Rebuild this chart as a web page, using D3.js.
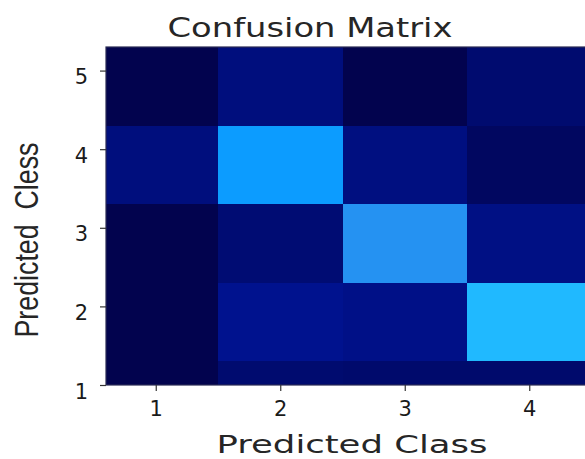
<!DOCTYPE html>
<html>
<head>
<meta charset="utf-8">
<script src="https://cdn.jsdelivr.net/npm/d3@7"></script>
<style>
  html, body { margin: 0; padding: 0; background: #fff; }
  svg { display: block; }
</style>
</head>
<body>
<svg id="chart" width="585" height="459"></svg>
<script>
// Confusion matrix data
const colClasses = [1, 2, 3, 4];
const rowClasses = [5, 4, 3, 2, 1];
const row5 = [0, 15, 0, 11];
const row4 = [15, 80, 16, 6];
const row3 = [0, 12, 70, 17];
const row2 = [0, 20, 18, 100];
const row1 = [0, 11, 10, 10];
const matrixRows = [row5, row4, row3, row2, row1];
const xTickValues = [1, 2, 3, 4];
const yTickValues = [1, 2, 3, 4, 5];

const title = "Confusion Matrix";
const xLabel = "Predicted Class";
const yLabel = "Predicted  Cless";

// Flatten into cells
const cells = [];
rowClasses.forEach((r, i) => {
  colClasses.forEach((c, j) => {
    cells.push({ row: r, col: c, value: matrixRows[i][j] });
  });
});

const svg = d3.select("#chart");
const plot = { left: 106, top: 47, right: 585, bottom: 385 };

const x = d3.scaleLinear().domain([1.5, 3.5]).range([218, 467]);
const y = d3.scaleLinear().domain([1, 5.3]).range([plot.bottom, plot.top]);

const color = d3.scaleLinear()
  .domain([0, 10, 20, 70, 80, 100])
  .range(["#02034e", "#000a6c", "#00128e", "#2592f2", "#0c9cff", "#20b9ff"])
  .clamp(true);

svg.append("defs").append("clipPath").attr("id", "plotClip")
  .append("rect")
  .attr("x", plot.left).attr("y", plot.top)
  .attr("width", plot.right - plot.left).attr("height", plot.bottom - plot.top);

// Row bands sit 0.7 below and 0.3 above each class value
const rowBelow = 0.7, rowAbove = 0.3;

svg.append("g").attr("clip-path", "url(#plotClip)")
  .selectAll("rect")
  .data(cells)
  .join("rect")
  .attr("x", d => x(d.col - 0.5))
  .attr("width", d => x(d.col + 0.5) - x(d.col - 0.5))
  .attr("y", d => y(d.row + rowAbove))
  .attr("height", d => y(d.row - rowBelow) - y(d.row + rowAbove))
  .attr("fill", d => color(d.value))
  .attr("shape-rendering", "crispEdges");

// Frame
svg.append("rect")
  .attr("x", plot.left).attr("y", plot.top)
  .attr("width", plot.right - plot.left + 2).attr("height", plot.bottom - plot.top)
  .attr("fill", "none").attr("stroke", "#2a2a55").attr("stroke-width", 1.2);

const tickFont = "'DejaVu Sans', sans-serif";

// X axis
const xAxis = d3.axisBottom(x).tickValues(xTickValues).tickSize(6).tickPadding(10)
  .tickFormat(d3.format("d"));
const gx = svg.append("g").attr("transform", `translate(0,${plot.bottom})`).call(xAxis);
gx.select(".domain").remove();
gx.selectAll(".tick line").attr("stroke", "#333").attr("stroke-width", 1.2);
gx.selectAll(".tick text").attr("font-family", tickFont).attr("font-size", 21).attr("fill", "#1a1a1a");

// Y axis
const yAxis = d3.axisLeft(y).tickValues(yTickValues).tickSize(6).tickPadding(12)
  .tickFormat(d3.format("d"));
const gy = svg.append("g").attr("transform", `translate(${plot.left},0)`).call(yAxis);
gy.select(".domain").remove();
gy.selectAll(".tick line").attr("stroke", "#333").attr("stroke-width", 1.2);
gy.selectAll(".tick text").attr("font-family", tickFont).attr("font-size", 21).attr("fill", "#1a1a1a")
  .attr("dy", "0.62em");

// Title
svg.append("text")
  .attr("x", 310).attr("y", 37)
  .attr("text-anchor", "middle")
  .attr("font-family", tickFont).attr("font-size", 27).attr("fill", "#262626")
  .attr("textLength", 285).attr("lengthAdjust", "spacingAndGlyphs")
  .text(title);

// X label
svg.append("text")
  .attr("x", 352).attr("y", 453)
  .attr("text-anchor", "middle")
  .attr("font-family", tickFont).attr("font-size", 24).attr("fill", "#262626")
  .attr("textLength", 271).attr("lengthAdjust", "spacingAndGlyphs")
  .text(xLabel);

// Y label (double space kept)
svg.append("text")
  .attr("transform", "translate(38,240) rotate(-90)")
  .attr("text-anchor", "middle")
  .attr("xml:space", "preserve")
  .style("white-space", "pre")
  .attr("font-family", "'Liberation Sans Narrow', 'Liberation Sans', sans-serif")
  .attr("font-size", 33).attr("fill", "#262626")
  .attr("textLength", 195).attr("lengthAdjust", "spacingAndGlyphs")
  .text(yLabel);
</script>
</body>
</html>
